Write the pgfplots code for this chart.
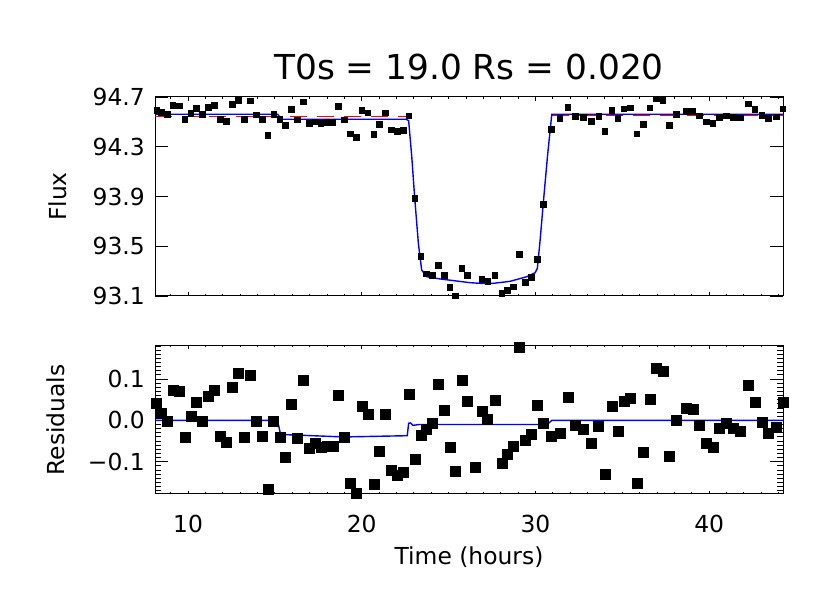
\documentclass[border=0pt]{standalone}
\usepackage{fontspec}
\setmainfont{DejaVu Sans}
\usepackage{pgfplots}
\usepackage{pgfplotstable}
\pgfplotsset{compat=1.18}
\definecolor{idlblue}{RGB}{0,0,255}
\definecolor{idlred}{RGB}{255,0,0}

% time (hours), flux, residual
\pgfplotstableread{
t flux res
8.19 94.595 0.041
8.47 94.579 0.018
8.79 94.561 -0.001
9.12 94.636 0.073
9.48 94.630 0.070
9.81 94.521 -0.040
10.16 94.571 0.010
10.48 94.609 0.044
10.82 94.561 -0.001
11.17 94.620 0.059
11.51 94.636 0.074
11.86 94.523 -0.037
12.19 94.507 -0.053
12.53 94.644 0.081
12.88 94.676 0.114
13.22 94.521 -0.040
13.57 94.670 0.109
13.92 94.558 -0.001
14.26 94.521 -0.038
14.59 94.392 -0.166
14.93 94.561 -0.001
15.28 94.521 -0.040
15.60 94.472 -0.088
15.95 94.601 0.039
16.29 94.517 -0.043
16.64 94.662 0.098
16.97 94.491 -0.068
17.31 94.501 -0.054
17.64 94.491 -0.066
17.99 94.499 -0.062
18.33 94.499 -0.062
18.65 94.625 0.062
19.00 94.517 -0.040
19.33 94.405 -0.151
19.67 94.376 -0.175
20.00 94.595 0.035
20.35 94.574 0.015
20.69 94.403 -0.154
21.01 94.483 -0.074
21.36 94.574 0.015
21.69 94.437 -0.120
22.03 94.424 -0.132
22.38 94.432 -0.125
22.71 94.550 0.064
23.05 93.888 -0.094
23.40 93.419 -0.036
23.72 93.279 -0.022
24.07 93.266 -0.006
24.41 93.347 0.087
24.74 93.269 0.024
25.07 93.170 -0.065
25.39 93.102 -0.124
25.76 93.323 0.098
26.08 93.266 0.047
26.52 93.090 -0.112
26.91 93.234 0.023
27.25 93.218 0.003
27.66 93.269 0.048
28.06 93.122 -0.103
28.38 93.146 -0.082
28.73 93.175 -0.062
29.07 93.438 0.178
29.42 93.213 -0.049
29.75 93.253 -0.033
30.09 93.395 0.037
30.46 93.837 -0.006
30.92 94.440 -0.039
31.40 94.529 -0.030
31.86 94.617 0.055
32.30 94.547 -0.012
32.76 94.537 -0.022
33.22 94.505 -0.054
33.64 94.547 -0.013
33.99 94.424 -0.131
34.39 94.595 0.034
34.74 94.531 -0.025
35.08 94.606 0.046
35.45 94.614 0.053
35.83 94.405 -0.151
36.20 94.481 -0.076
36.58 94.614 0.052
36.96 94.686 0.127
37.33 94.676 0.118
37.71 94.472 -0.086
38.10 94.561 0.000
38.67 94.587 0.029
39.06 94.587 0.026
39.44 94.550 -0.011
39.82 94.501 -0.056
40.21 94.491 -0.065
40.59 94.539 -0.019
40.97 94.550 -0.007
41.39 94.537 -0.019
41.78 94.534 -0.025
42.24 94.646 0.085
42.63 94.604 0.044
43.03 94.555 -0.004
43.41 94.531 -0.030
43.85 94.542 -0.017
44.24 94.606 0.045
}\lcdata

% transit model
\pgfplotstableread{
t flux
8.10 94.561
15.16 94.561
15.39 94.521
22.55 94.521
22.70 94.510
22.88 94.220
23.05 93.888
23.26 93.524
23.45 93.309
23.74 93.255
24.51 93.237
26.23 93.207
26.81 93.202
27.58 93.202
28.54 93.218
29.50 93.255
29.98 93.287
30.11 93.323
30.27 93.550
30.45 93.845
30.69 94.220
30.94 94.561
44.25 94.561
}\modeldata

% model difference shown under residuals
\pgfplotstableread{
t res
8.10 0.000
15.15 0.000
15.33 -0.034
18.99 -0.040
22.62 -0.037
22.70 -0.007
22.80 -0.006
22.95 -0.012
23.30 -0.010
30.17 -0.010
30.45 -0.013
30.62 -0.012
30.94 0.000
44.25 0.000
}\diffdata

\pgfplotsset{
  idl/.style={
    scale only axis, width=628bp, anchor=south west,
    xmin=8.10, xmax=44.25,
    tick align=inside,
    axis line style={line width=1bp},
    every tick/.style={black, line width=0.9bp},
    xtick={10,20,30,40},
    minor xtick={9,...,44},
    tick label style={font=\fontsize{23.5}{24}\selectfont},
    label style={font=\fontsize{23.5}{24}\selectfont},
    yticklabel style={anchor=east, inner sep=0pt, xshift=-10bp},
    ytick style={/pgfplots/major tick length=12.6bp, /pgfplots/minor tick length=6.3bp},
  },
}

\begin{document}
\begin{tikzpicture}
\path[use as bounding box] (0,0) rectangle (830bp,593bp);

\begin{axis}[idl, at={(155bp,297bp)}, height=199bp,
  ymin=93.1, ymax=94.7,
  ytick={93.1,93.5,93.9,94.3,94.7},
  yticklabels={93.1,93.5,93.9,94.3,94.7},
  xticklabels={},
  xtick style={/pgfplots/major tick length=4bp, /pgfplots/minor tick length=2bp},
  ylabel={Flux},
  ylabel style={at={(axis description cs:-0.1545,0.5)}, anchor=center, inner sep=0pt},
  title={T0s = 19.0 Rs = 0.020},
  title style={font=\fontsize{34.5}{36}\selectfont, at={(axis description cs:0.5,1)}, anchor=base, yshift=12bp},
]
\addplot[idlred, line width=1.4bp, dash pattern=on 17bp off 10bp] coordinates {(8.10,94.545) (22.62,94.545)};
\addplot[idlred, line width=1.4bp, dash pattern=on 17bp off 10bp] coordinates {(30.94,94.553) (44.25,94.553)};
\addplot[only marks, mark=square*, mark size=2.8bp, black] table[x=t, y=flux] {\lcdata};
\addplot[idlblue, line width=1.4bp] table[x=t, y=flux] {\modeldata};
\end{axis}

\begin{axis}[idl, at={(155bp,99bp)}, height=148bp,
  ymin=-0.178, ymax=0.180,
  ytick={-0.1,0,0.1},
  yticklabels={−0.1,0.0,0.1},
  minor ytick={-0.17,-0.16,...,0.175},
  xticklabels={10,20,30,40},
  xticklabel style={anchor=north, inner sep=0pt, yshift=-20.5bp},
  xtick style={/pgfplots/major tick length=3bp, /pgfplots/minor tick length=1.5bp},
  xlabel={Time (hours)},
  xlabel style={at={(axis description cs:0.5,0)}, anchor=base, inner sep=0pt, yshift=-70bp},
  ylabel={Residuals},
  ylabel style={at={(axis description cs:-0.1576,0.5)}, anchor=center, inner sep=0pt},
]
\addplot[only marks, mark=square*, mark size=5bp, black] table[x=t, y=res] {\lcdata};
\addplot[idlblue, line width=1.4bp] table[x=t, y=res] {\diffdata};
\end{axis}
\end{tikzpicture}
\end{document}
